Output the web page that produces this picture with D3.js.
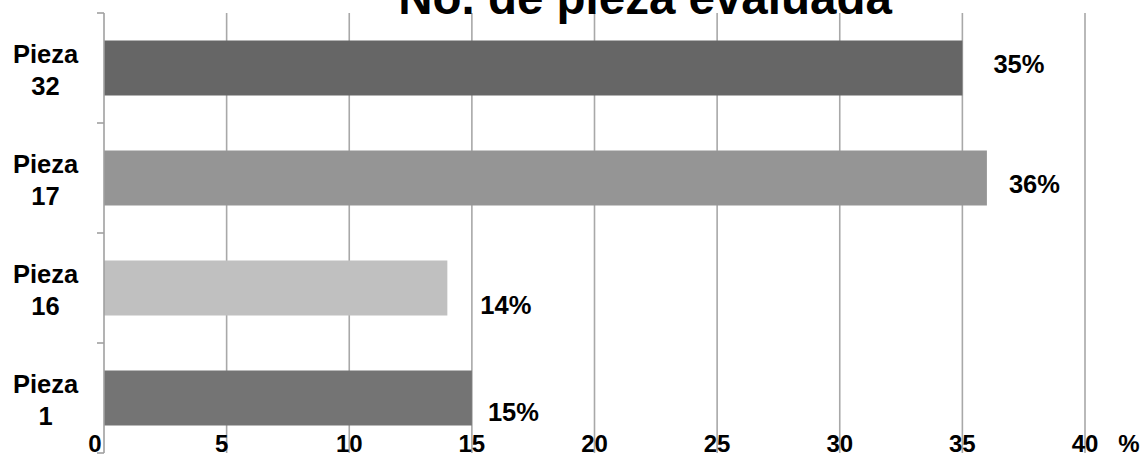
<!DOCTYPE html>
<html>
<head>
<meta charset="utf-8">
<script src="https://cdn.jsdelivr.net/npm/d3@7"></script>
<style>
  html, body { margin: 0; padding: 0; background: #fff; }
  svg { display: block; font-family: "Liberation Sans", Arial, sans-serif; }
</style>
</head>
<body>
<svg id="chart" width="1143" height="455"></svg>
<script>
// ---- data ----
const title = "No. de pieza evaluada";
const categories = ["Pieza 32", "Pieza 17", "Pieza 16", "Pieza 1"];
const values = [35, 36, 14, 15];
const valueLabels = ["35%", "36%", "14%", "15%"];
const xTicks = [0, 5, 10, 15, 20, 25, 30, 35, 40];
const xUnit = "%";

// ---- styles ----
const barColors = ["#666666", "#959595", "#c0c0c0", "#747474"];
const labelDx = [31, 22, 33, 16];
const labelDy = [4.5, 14.5, 26, 23];

const svg = d3.select("#chart");
const mLeft = 104, mRight = 1085, mTop = 13, mBottom = 453;

const x = d3.scaleLinear().domain([0, 40]).range([mLeft, mRight]);
const y = d3.scaleBand().domain(categories).range([mTop, mBottom])
  .paddingInner(0.5).paddingOuter(0.25);

// gridlines
svg.append("g").selectAll("line").data(xTicks.slice(1)).join("line")
  .attr("x1", d => x(d)).attr("x2", d => x(d))
  .attr("y1", mTop).attr("y2", mBottom)
  .attr("stroke", "#a8a8a8").attr("stroke-width", 1.6);

// bars
svg.append("g").selectAll("rect").data(categories).join("rect")
  .attr("x", x(0))
  .attr("y", d => y(d))
  .attr("width", (d, i) => x(values[i]) - x(0))
  .attr("height", y.bandwidth())
  .attr("fill", (d, i) => barColors[i]);

// left axis line + ticks at band boundaries
svg.append("line").attr("x1", mLeft).attr("x2", mLeft).attr("y1", mTop).attr("y2", mBottom)
  .attr("stroke", "#a0a0a0").attr("stroke-width", 1.6);
const bounds = d3.range(categories.length + 1).map(i => mTop + i * y.step());
svg.append("g").selectAll("line").data(bounds).join("line")
  .attr("x1", mLeft - 7).attr("x2", mLeft)
  .attr("y1", d => d).attr("y2", d => d)
  .attr("stroke", "#a0a0a0").attr("stroke-width", 1.6);

// category labels
const catG = svg.append("g");
categories.forEach(c => {
  const cy = y(c) + y.bandwidth() / 2;
  const parts = c.split(" ");
  const t = catG.append("text").attr("text-anchor", "middle")
    .attr("font-weight", "bold").attr("font-size", 25.5).attr("fill", "#000");
  t.append("tspan").attr("x", 45.5).attr("y", cy - 5.5).text(parts[0]);
  t.append("tspan").attr("x", 45.5).attr("y", cy + 26.5).text(parts[1]);
});

// x tick labels
svg.append("g").selectAll("text").data(xTicks).join("text")
  .attr("x", d => x(d) + (d === 0 ? -9 : d === 5 ? -5 : 0))
  .attr("y", 452)
  .attr("text-anchor", "middle")
  .attr("font-weight", "bold").attr("font-size", 24).attr("fill", "#000")
  .text(d => d);
svg.append("text").attr("x", 1129).attr("y", 452).attr("text-anchor", "middle")
  .attr("font-weight", "bold").attr("font-size", 24).attr("fill", "#000").text(xUnit);

// value labels
svg.append("g").selectAll("text").data(categories).join("text")
  .attr("x", (d, i) => x(values[i]) + labelDx[i])
  .attr("y", (d, i) => y(d) + y.bandwidth() / 2 + labelDy[i])
  .attr("font-weight", "bold").attr("font-size", 25.5).attr("fill", "#000")
  .text((d, i) => valueLabels[i]);

// title (clipped at top)
svg.append("text").attr("x", 645).attr("y", 14).attr("text-anchor", "middle")
  .attr("font-weight", "bold").attr("font-size", 47.5).attr("fill", "#000")
  .text(title);
</script>
</body>
</html>
